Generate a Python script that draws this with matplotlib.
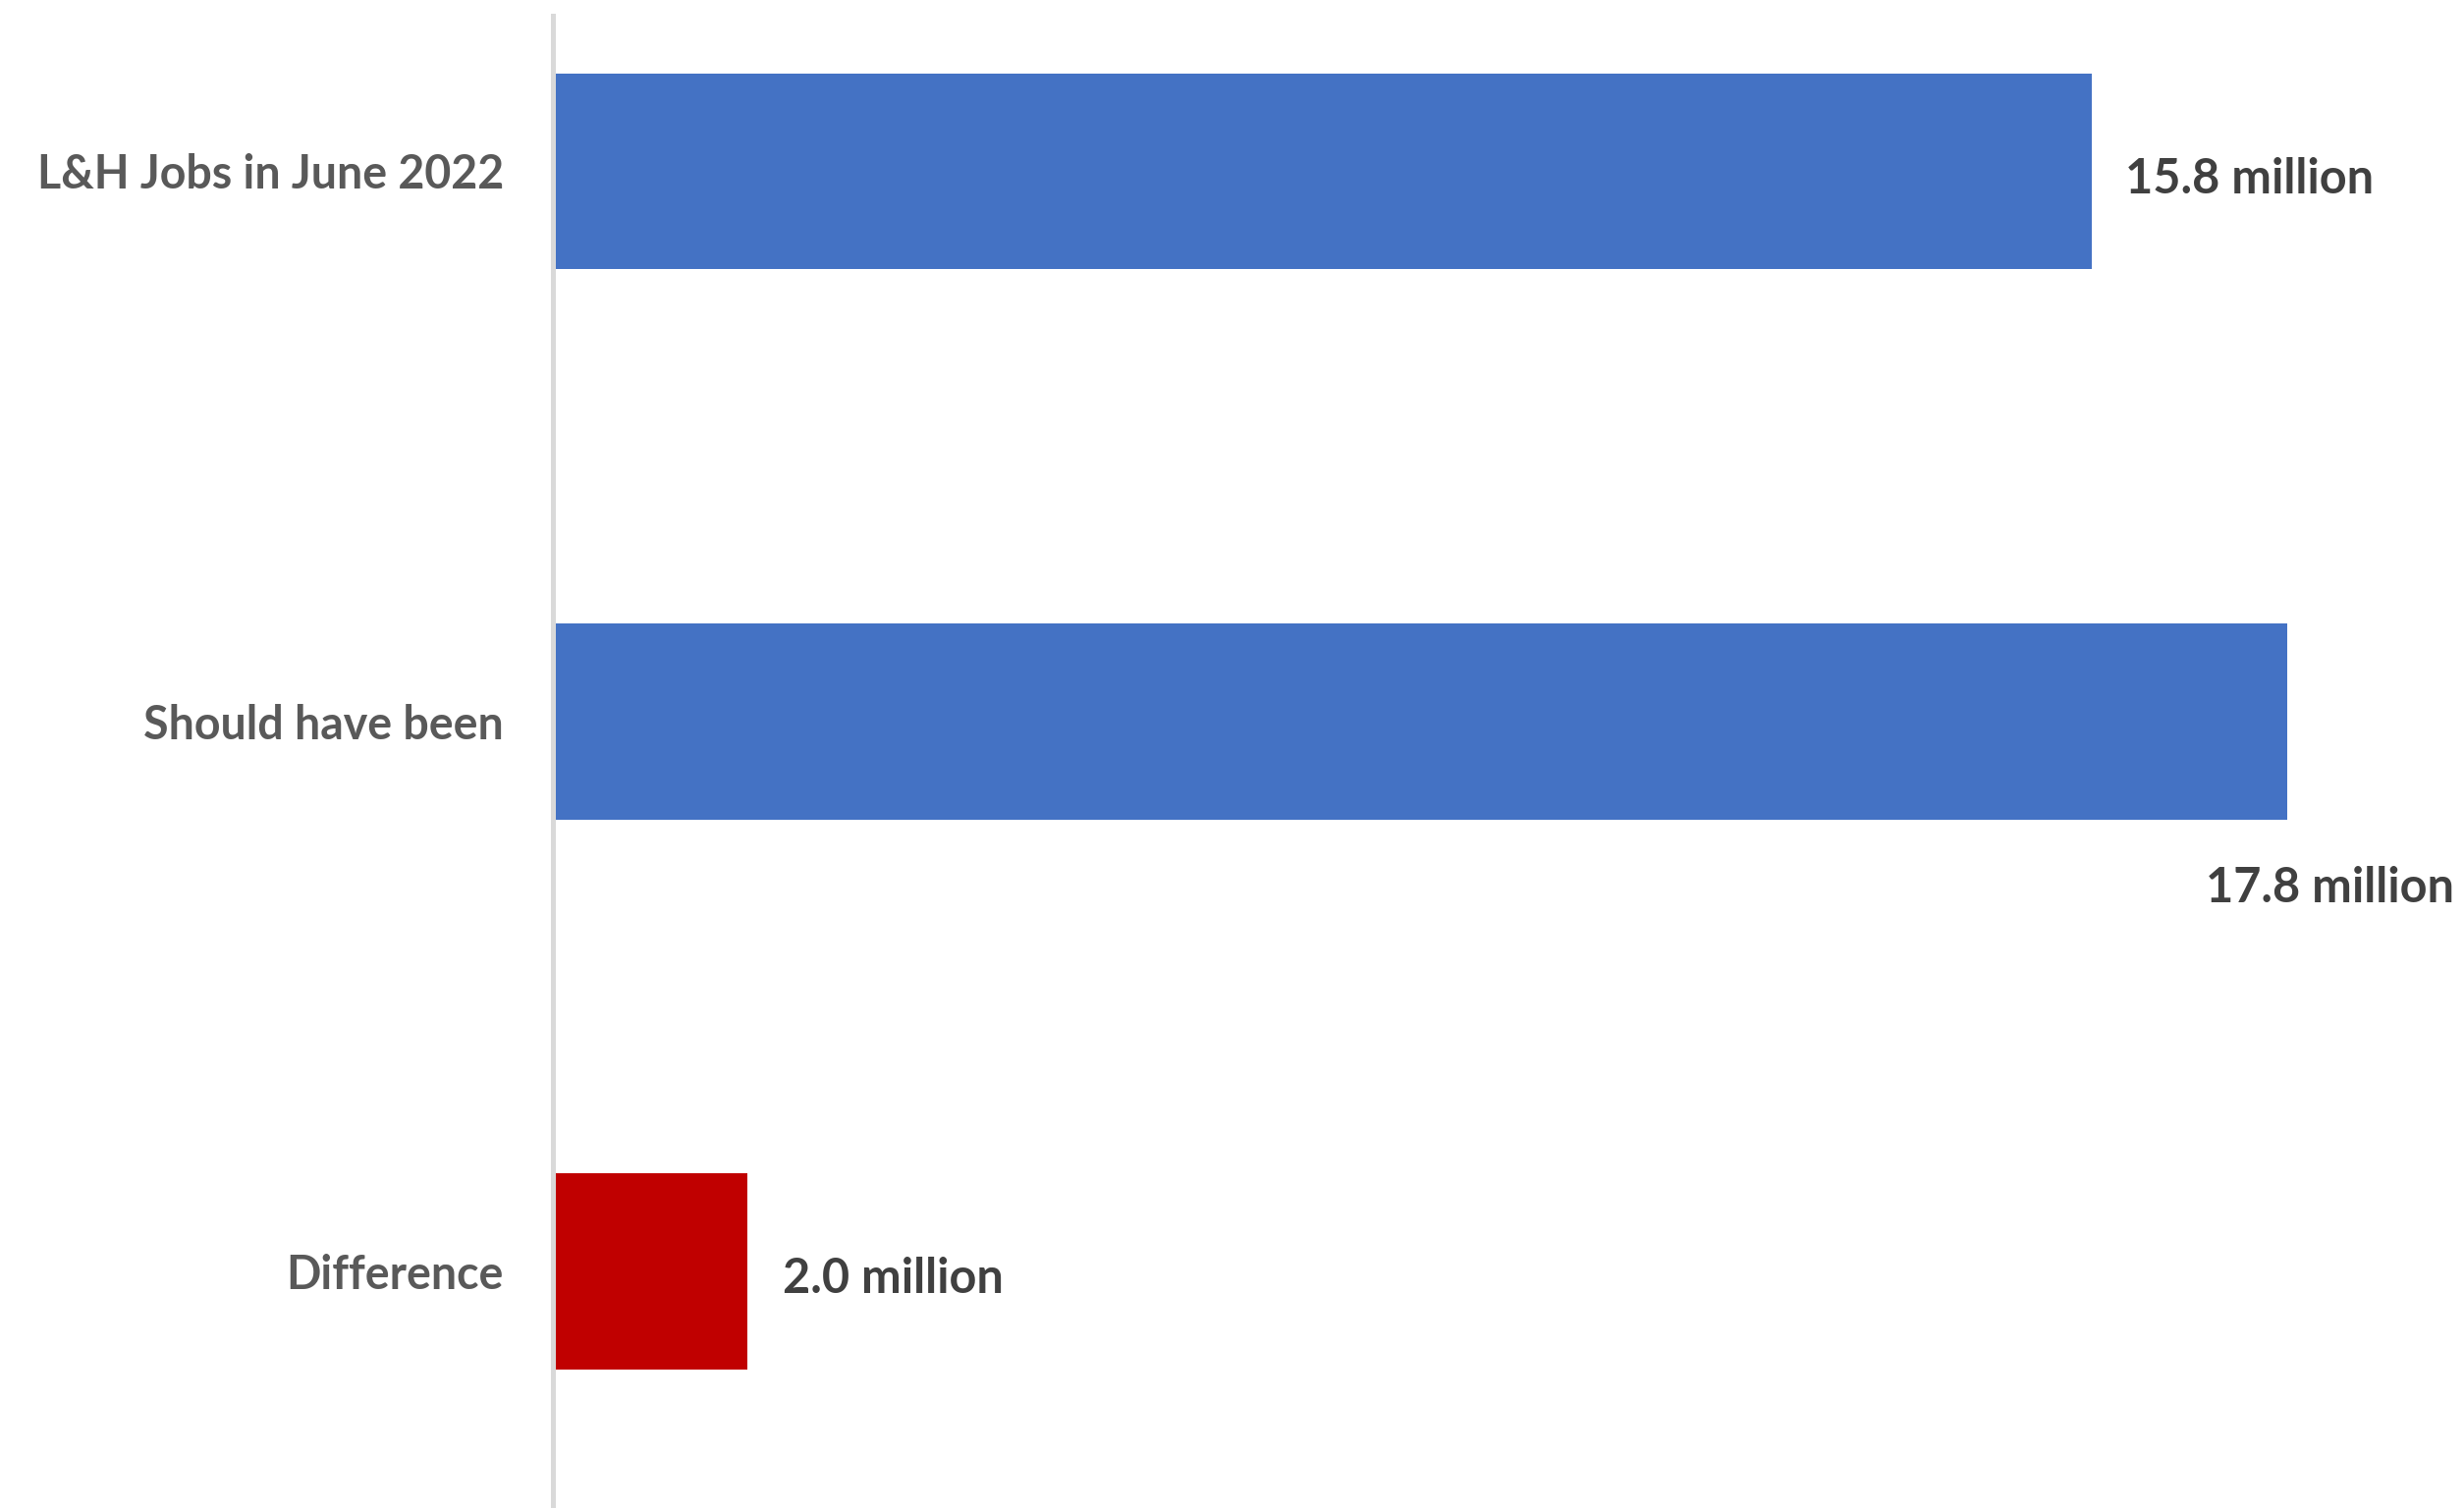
import matplotlib.pyplot as plt

# -------------------------
# Data
# -------------------------

categories = ["L&H Jobs in June 2022", "Should have been", "Difference"]
values = [15.8, 17.8, 2.0]  # millions
value_labels = ["15.8 million", "17.8 million", "2.0 million"]
bar_colors = ["#4472C4", "#4472C4", "#C00000"]

plt.rcParams["font.family"] = ["Lato", "DejaVu Sans"]

# -------------------------
# Plot
# -------------------------

W, H, DPI = 2509, 1536, 100
fig = plt.figure(figsize=(W / DPI, H / DPI), dpi=DPI)

left_px = 563
top_px = 16
ax = fig.add_axes([left_px / W, 0, (W - left_px) / W, (H - top_px) / H])

ypos = list(range(len(categories)))
ax.barh(ypos, values, height=0.357, color=bar_colors)

ax.set_xlim(0, (W - left_px) / 99.2)
ax.set_ylim(2.431, -0.283)

ax.set_yticks(ypos)
ax.set_yticklabels(categories, fontsize=33.5, fontweight="bold", color="#595959")
ax.tick_params(axis="y", length=0, pad=36)
ax.set_xticks([])

for side in ["top", "right", "bottom"]:
    ax.spines[side].set_visible(False)
ax.spines["left"].set_color("#D9D9D9")
ax.spines["left"].set_linewidth(3.6)

# Value labels (pixel offsets converted to points)
px = 72.0 / DPI
offsets = [(34 * px, -8 * px, "left"), (170 * px, -170 * px, "right"), (36 * px, -8 * px, "left")]
for i, (v, lab) in enumerate(zip(values, value_labels)):
    dx, dy, ha = offsets[i]
    ax.annotate(lab, xy=(v, i), xytext=(dx, dy), textcoords="offset points",
                ha=ha, va="center", fontsize=35, fontweight="bold", color="#404040")

fig.savefig("out.png", dpi=DPI)
